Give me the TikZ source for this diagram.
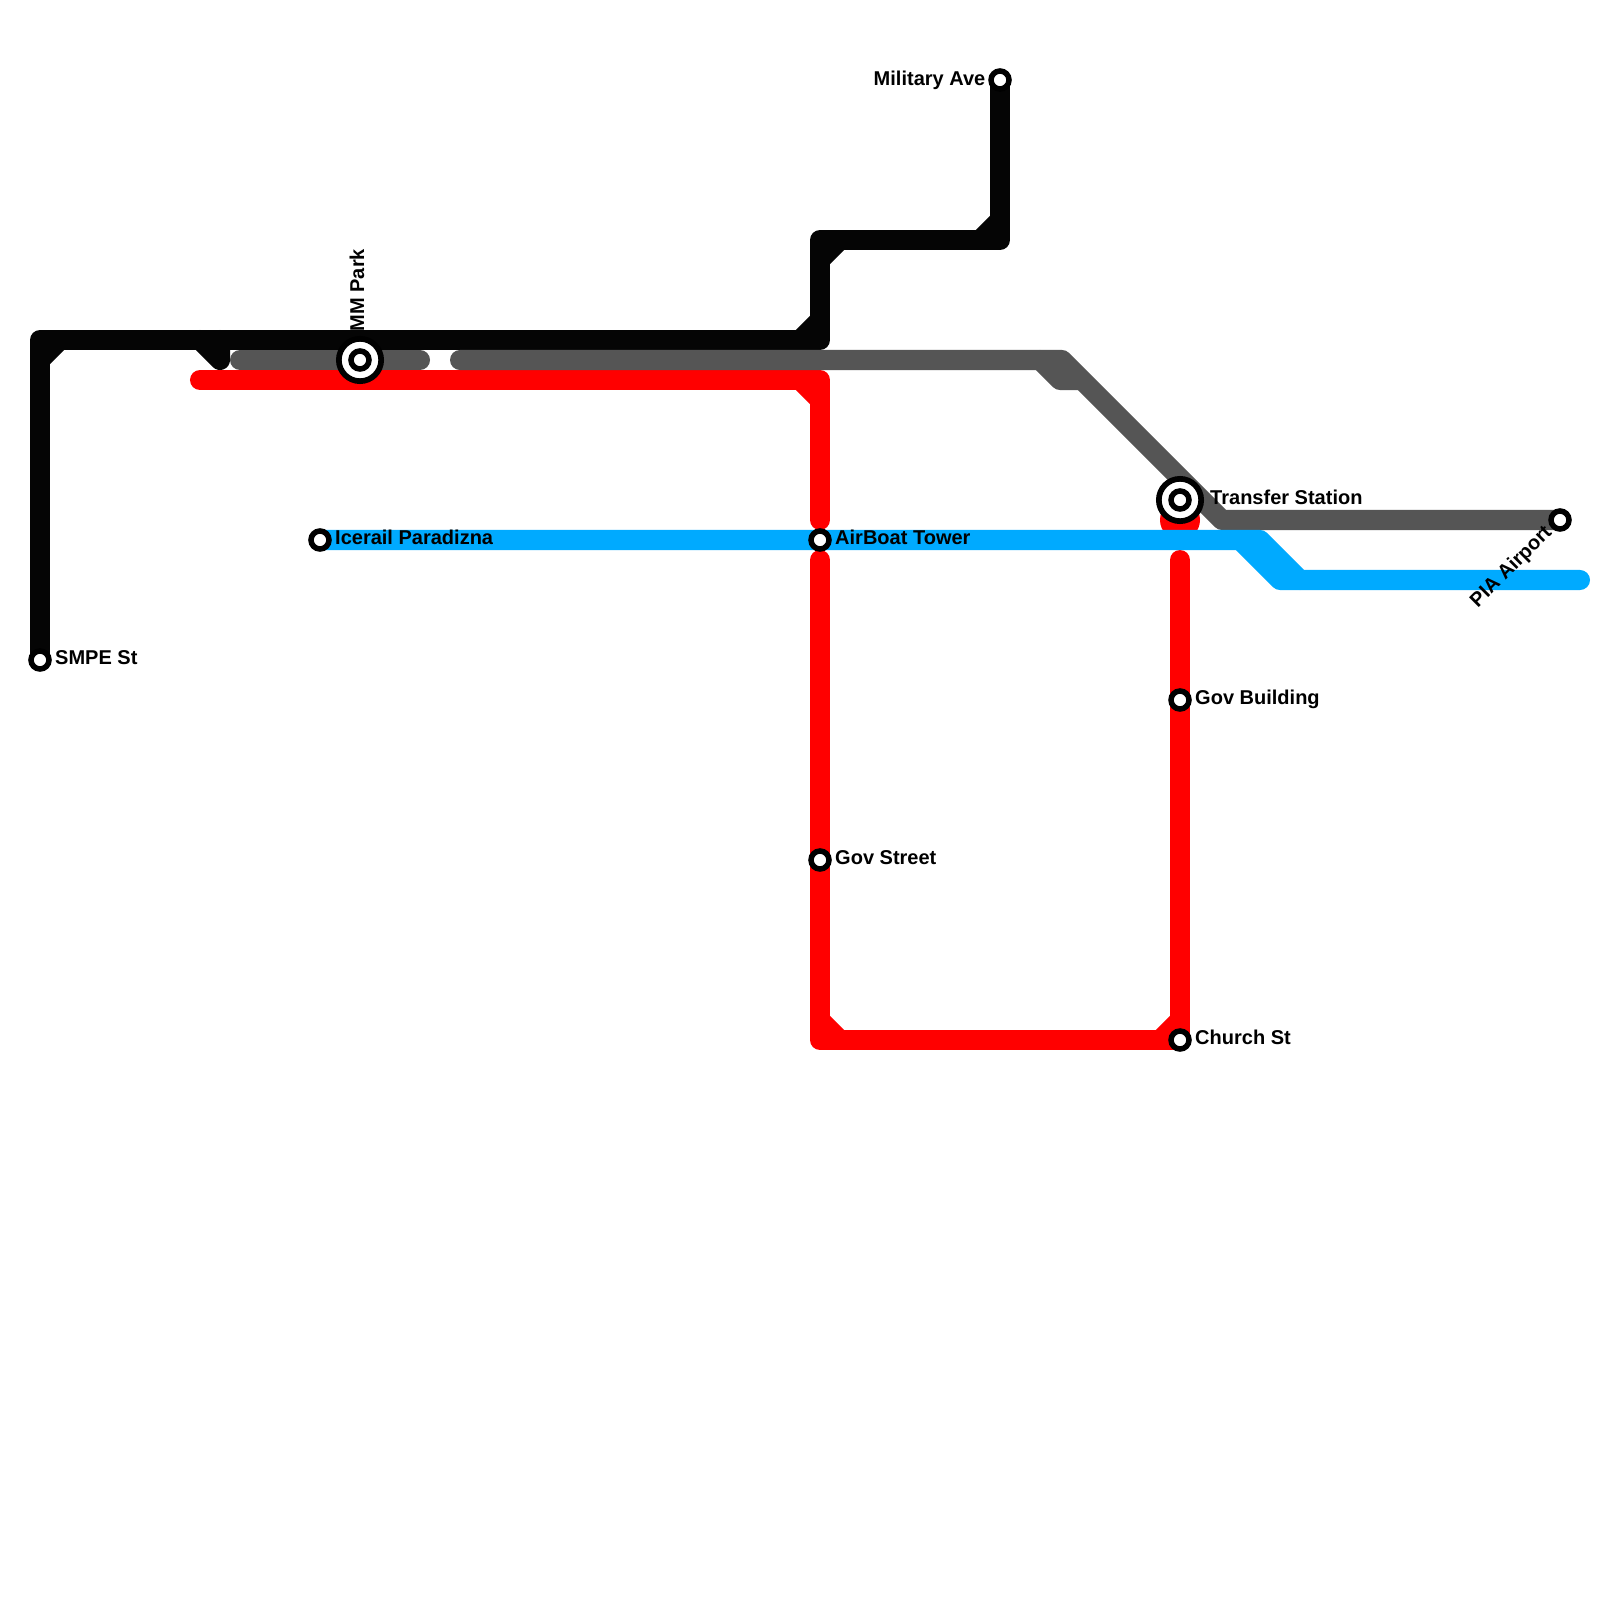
\documentclass[tikz,border=0pt]{standalone}
\usepackage{fontspec}
\setmainfont{Liberation Sans}
\definecolor{lineblack}{HTML}{050505}
\definecolor{linegray}{HTML}{555555}
\definecolor{linered}{HTML}{FF0000}
\definecolor{lineblue}{HTML}{00AAFF}
\tikzset{
    track/.style={line width=0.2cm,line cap=round,line join=round},
    chamfer/.style={line width=0.2cm,line cap=butt},
    stopdot/.style={circle,draw=black,fill=white,line width=0.055cm,minimum size=0.18cm,inner sep=0pt},
    transferdot/.style={circle,draw=black,fill=white,line width=0.057cm,minimum size=0.423cm,inner sep=0pt},
    stoptext/.style={font=\bfseries\fontsize{5.69pt}{6pt}\selectfont,inner sep=0pt,text=black},
}
\begin{document}
\begin{tikzpicture}[x=0.01cm,y=-0.01cm]
    \useasboundingbox (0,0) rectangle (1600,1600);
    \fill[white] (0,0) rectangle (1600,1600);

    \foreach \name/\x/\y in {blackA/40/340,blackB/820/340,blackC/820/240,blackD/1000/240,
        blackE/200/340,blackF/220/360,blackG/220/340,
        grayA/240/360,grayB/420/360,grayC/460/360,grayD/1062/360,grayE/1222/520,
        grayF/1040/360,grayG/1060/380,grayH/1080/380,
        redA/200/380,redB/820/380,redC/820/520,redD/820/560,redE/820/1040,redF/1180/1040,redG/1180/560,
        redH/1180/520,
        blueA/1260/540,blueB/1300/580,blueC/1240/540,blueD/1280/580,blueE/1580/580} {
        \coordinate (\name) at (\x,\y);
    }

    % stations
    \foreach \name/\x/\y in {smpe/40/660,military/1000/80,icerail/320/540,airboat/820/540,
        govstreet/820/860,govbuilding/1180/700,church/1180/1040,pia/1560/520} {
        \coordinate (\name) at (\x,\y);
    }
    \coordinate (mmpark) at (360,360);
    \coordinate (transfer) at (1180,500);

    % black line
    \draw[track,lineblack] (smpe) -- (blackA) -- (blackB) -- (blackC) -- (blackD) -- (military);
    \draw[track,lineblack] (blackE) -- (blackF) -- (blackG);
    \draw[chamfer,lineblack] (blackA) ++(0,20) -- ++(20,-20);
    \draw[chamfer,lineblack] (blackB) ++(-20,0) -- ++(20,-20);
    \draw[chamfer,lineblack] (blackC) ++(0,20) -- ++(20,-20);
    \draw[chamfer,lineblack] (blackD) ++(-20,0) -- ++(20,-20);

    % red line
    \draw[track,linered] (redA) -- (redB) -- (redC);
    \draw[track,linered] (redD) -- (redE) -- (redF) -- (redG);
    \fill[linered] (redH) circle (20);
    \draw[chamfer,linered] (redB) ++(-20,0) -- ++(20,20);
    \draw[chamfer,linered] (redE) ++(0,-20) -- ++(20,20);
    \draw[chamfer,linered] (redF) ++(-20,0) -- ++(20,-20);

    % gray line
    \draw[track,linegray] (grayA) -- (grayB);
    \draw[track,linegray] (grayC) -- (grayD) -- (grayE) -- (pia);
    \draw[track,linegray] (grayF) -- (grayG) -- (grayH);

    % blue line
    \draw[track,lineblue] (icerail) -- (blueA) -- (blueB) -- (blueE);
    \draw[track,lineblue] (blueC) -- (blueD) -- (blueB);

    % station markers on top
    \foreach \name in {smpe,military,icerail,airboat,govstreet,govbuilding,church,pia} {
        \node[stopdot] (\name dot) at (\name) {};
    }
    \node[transferdot] (mmparkring) at (mmpark) {};
    \node[stopdot] (mmparkdot) at (mmpark) {};
    \node[transferdot] (transferring) at (transfer) {};
    \node[stopdot] (transferdot) at (transfer) {};

    % names
    \node[stoptext,anchor=base west] (smpename) at (54.5,664.5) {SMPE St};
    \node[stoptext,anchor=base east] (militaryname) at (986,85.5) {Military Ave};
    \node[stoptext,anchor=base west,rotate=90] (mmparkname) at (364,332) {MM Park};
    \node[stoptext,anchor=base west] (transfername) at (1209.5,504.5) {Transfer Station};
    \node[stoptext,anchor=base west] (icerailname) at (334.5,544.5) {Icerail Paradizna};
    \node[stoptext,anchor=base west] (airboatname) at (834.5,544.5) {AirBoat Tower};
    \node[stoptext,anchor=base west] (govstreetname) at (834.5,864.5) {Gov Street};
    \node[stoptext,anchor=base west] (govbuildingname) at (1194.5,704.5) {Gov Building};
    \node[stoptext,anchor=base west] (churchname) at (1194.5,1044.5) {Church St};
    \node[stoptext,anchor=base east,rotate=45] (pianame) at (1553,533) {PIA Airport};
\end{tikzpicture}
\end{document}
